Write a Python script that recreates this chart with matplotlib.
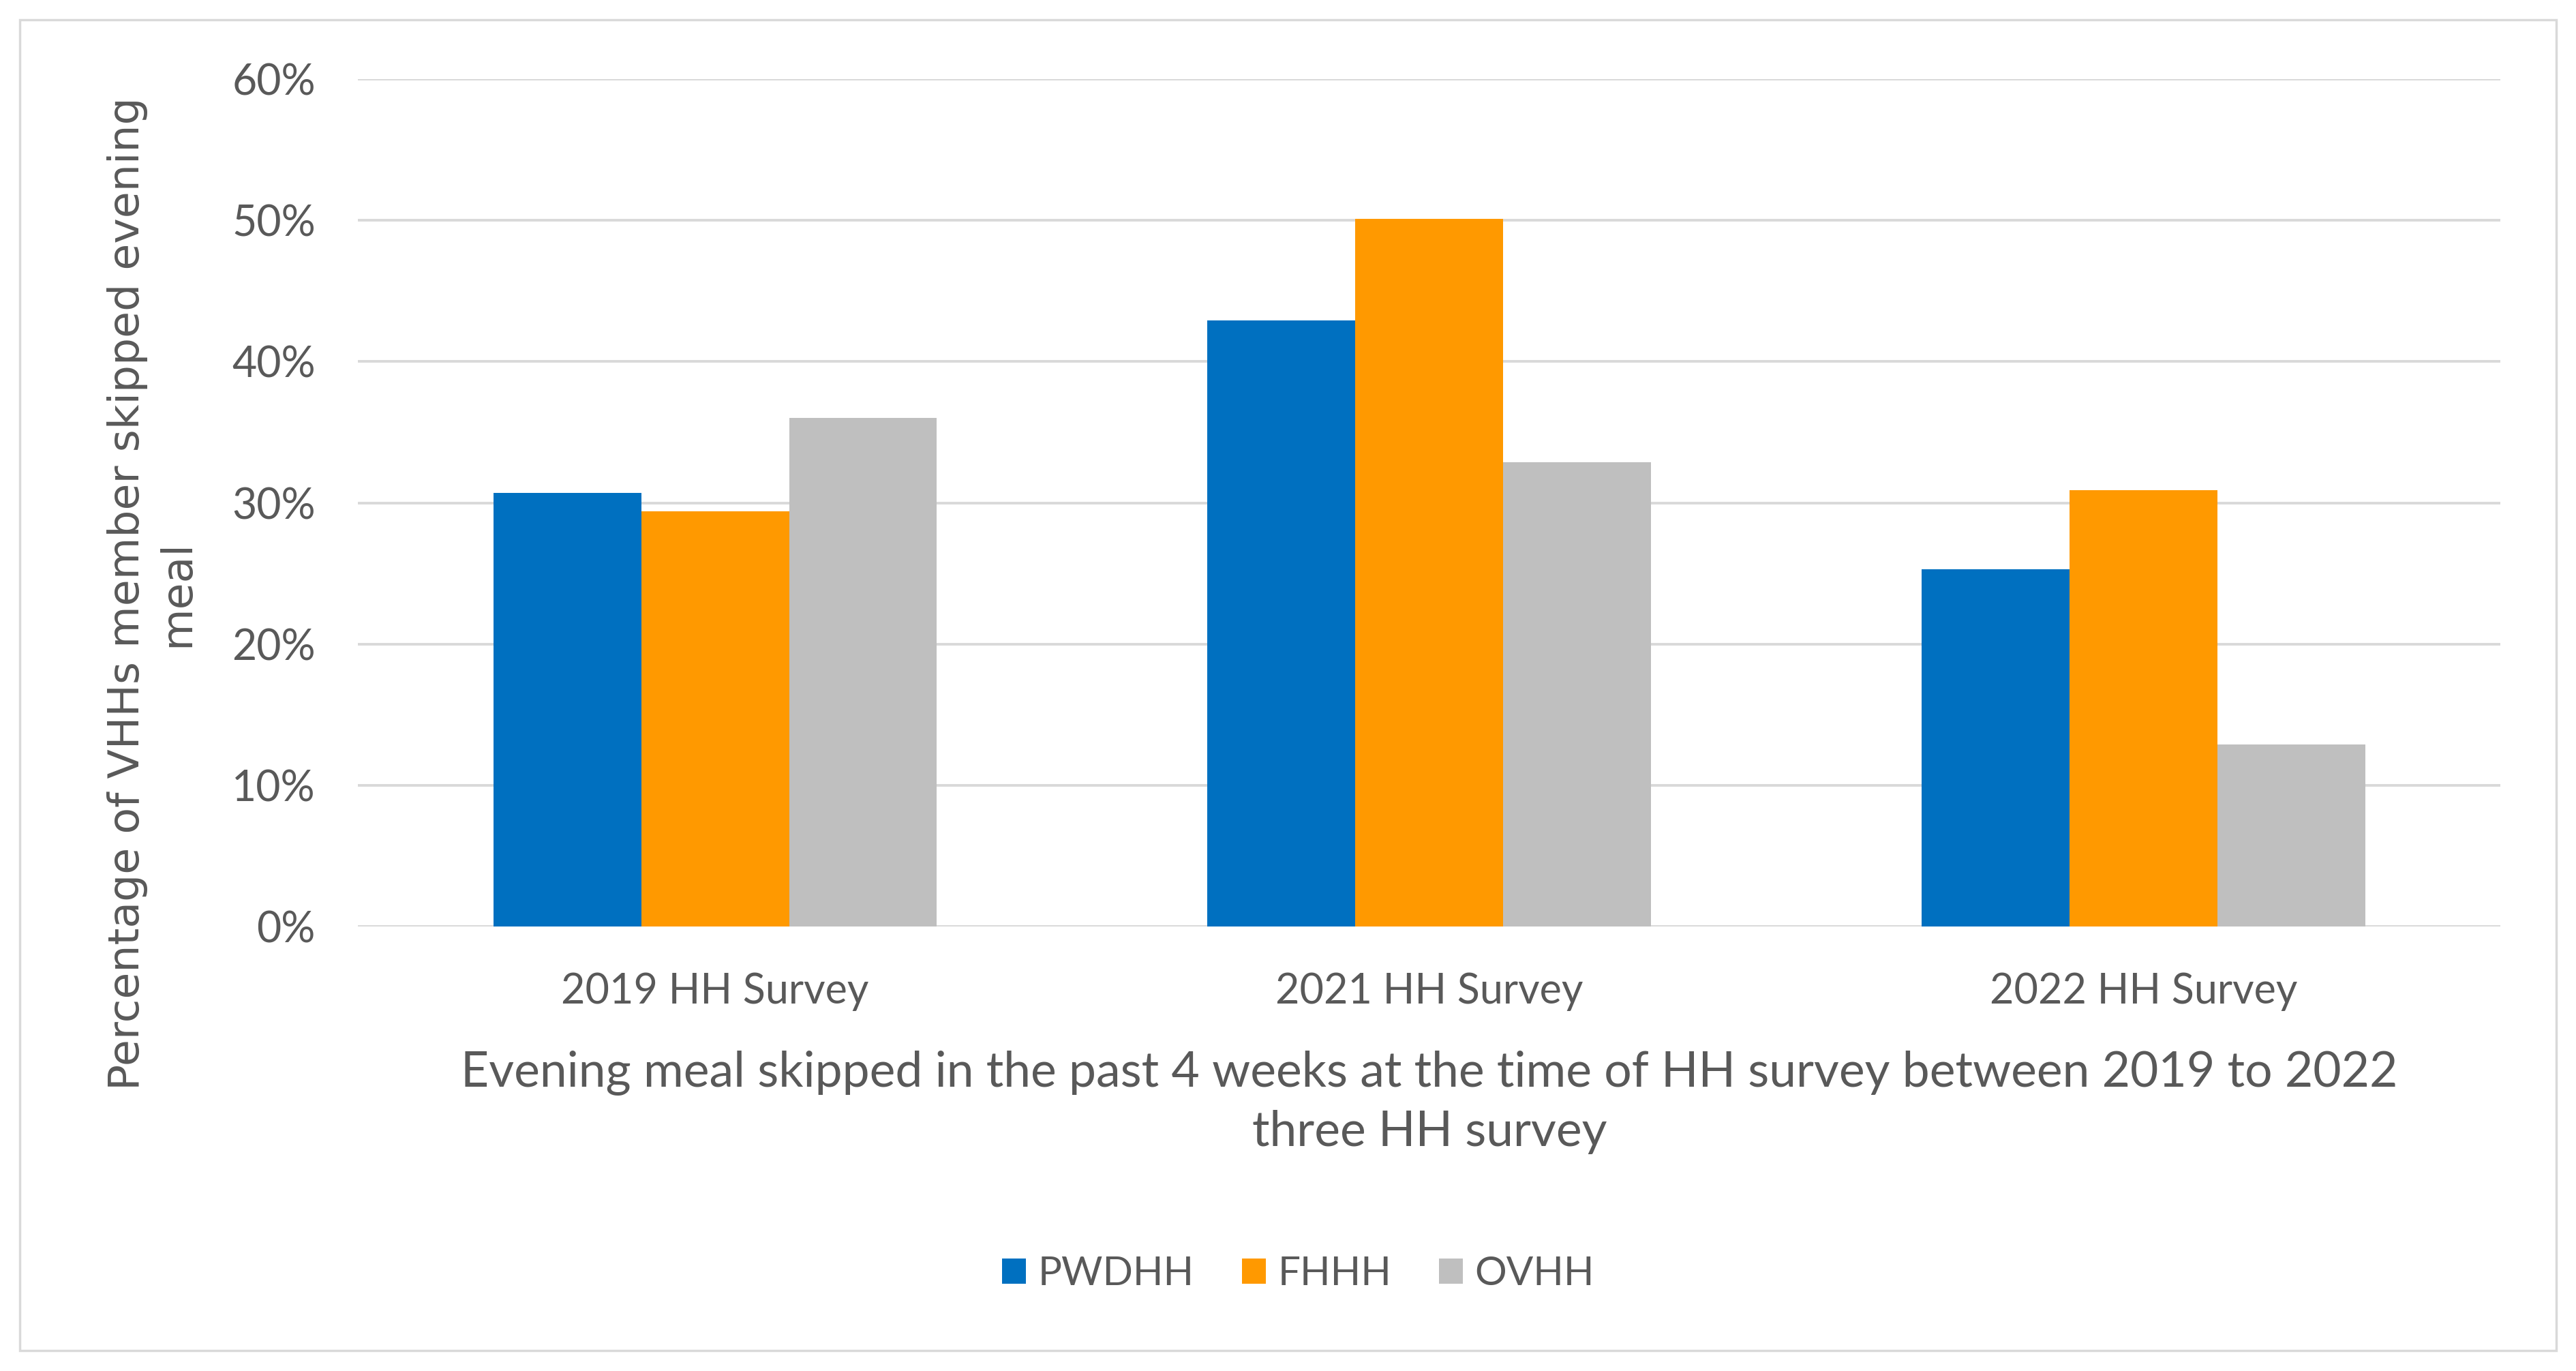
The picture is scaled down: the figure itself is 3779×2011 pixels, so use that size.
import matplotlib
matplotlib.use('Agg')
import matplotlib.pyplot as plt
import numpy as np
from matplotlib.patches import Rectangle
from matplotlib.ticker import PercentFormatter

surveys = ['2019 HH Survey', '2021 HH Survey', '2022 HH Survey']
series = ['PWDHH', 'FHHH', 'OVHH']
pwdhh = [30.7, 42.9, 25.3]
fhhh = [29.4, 50.1, 30.9]
ovhh = [36.0, 32.9, 12.9]
colors = ['#0070C0', '#FF9900', '#BFBFBF']

text_col = '#595959'
plt.rcParams['font.family'] = ['Lato', 'DejaVu Sans']

fig = plt.figure(figsize=(37.79, 20.11), dpi=100)
ax = fig.add_axes([0.139, 0.324, 0.8317, 0.6184])

# outer chart border
fig.patches.append(Rectangle((0.0077, 0.0149), 0.9846, 0.9707, transform=fig.transFigure,
                             fill=False, edgecolor='#D9D9D9', linewidth=2.5))

x = np.arange(len(surveys))
w = 0.207
for i, (vals, name) in enumerate(zip([pwdhh, fhhh, ovhh], series)):
    ax.bar(x + (i - 1) * w, np.array(vals) / 100, width=w, color=colors[i], label=name, zorder=3)

ax.set_xlim(-0.5, 2.5)
ax.set_ylim(0, 0.6)
ax.set_yticks(np.arange(0, 0.61, 0.1))
ax.yaxis.set_major_formatter(PercentFormatter(1.0, decimals=0))
ax.set_xticks(x)
ax.set_xticklabels(surveys)
ax.grid(axis='y', color='#D9D9D9', linewidth=2.8, zorder=0)
for s in ax.spines.values():
    s.set_visible(False)
ax.tick_params(axis='y', length=0, pad=45, labelsize=45, labelcolor=text_col)
ax.tick_params(axis='x', length=0, pad=48, labelsize=44, labelcolor=text_col)

ax.set_xlabel('Evening meal skipped in the past 4 weeks at the time of HH survey between 2019 to 2022\nthree HH survey',
              fontsize=51.5, color=text_col, va='center', linespacing=1.4)
ax.xaxis.set_label_coords(0.5, -0.207)

ax.set_ylabel('Percentage of VHHs member skipped evening\nmeal', fontsize=45.5, color=text_col,
              family='DejaVu Sans', va='center', ha='center', multialignment='center', linespacing=1.27)
ax.yaxis.set_label_coords(-0.096, 0.393)

fig.legend(loc='center', bbox_to_anchor=(0.504, 0.0707), ncol=3, frameon=False,
           fontsize=42, labelcolor=text_col, handlelength=0.6, handleheight=0.6,
           handletextpad=0.3, columnspacing=1.2)

plt.savefig('out.png', dpi=100, facecolor='white')
